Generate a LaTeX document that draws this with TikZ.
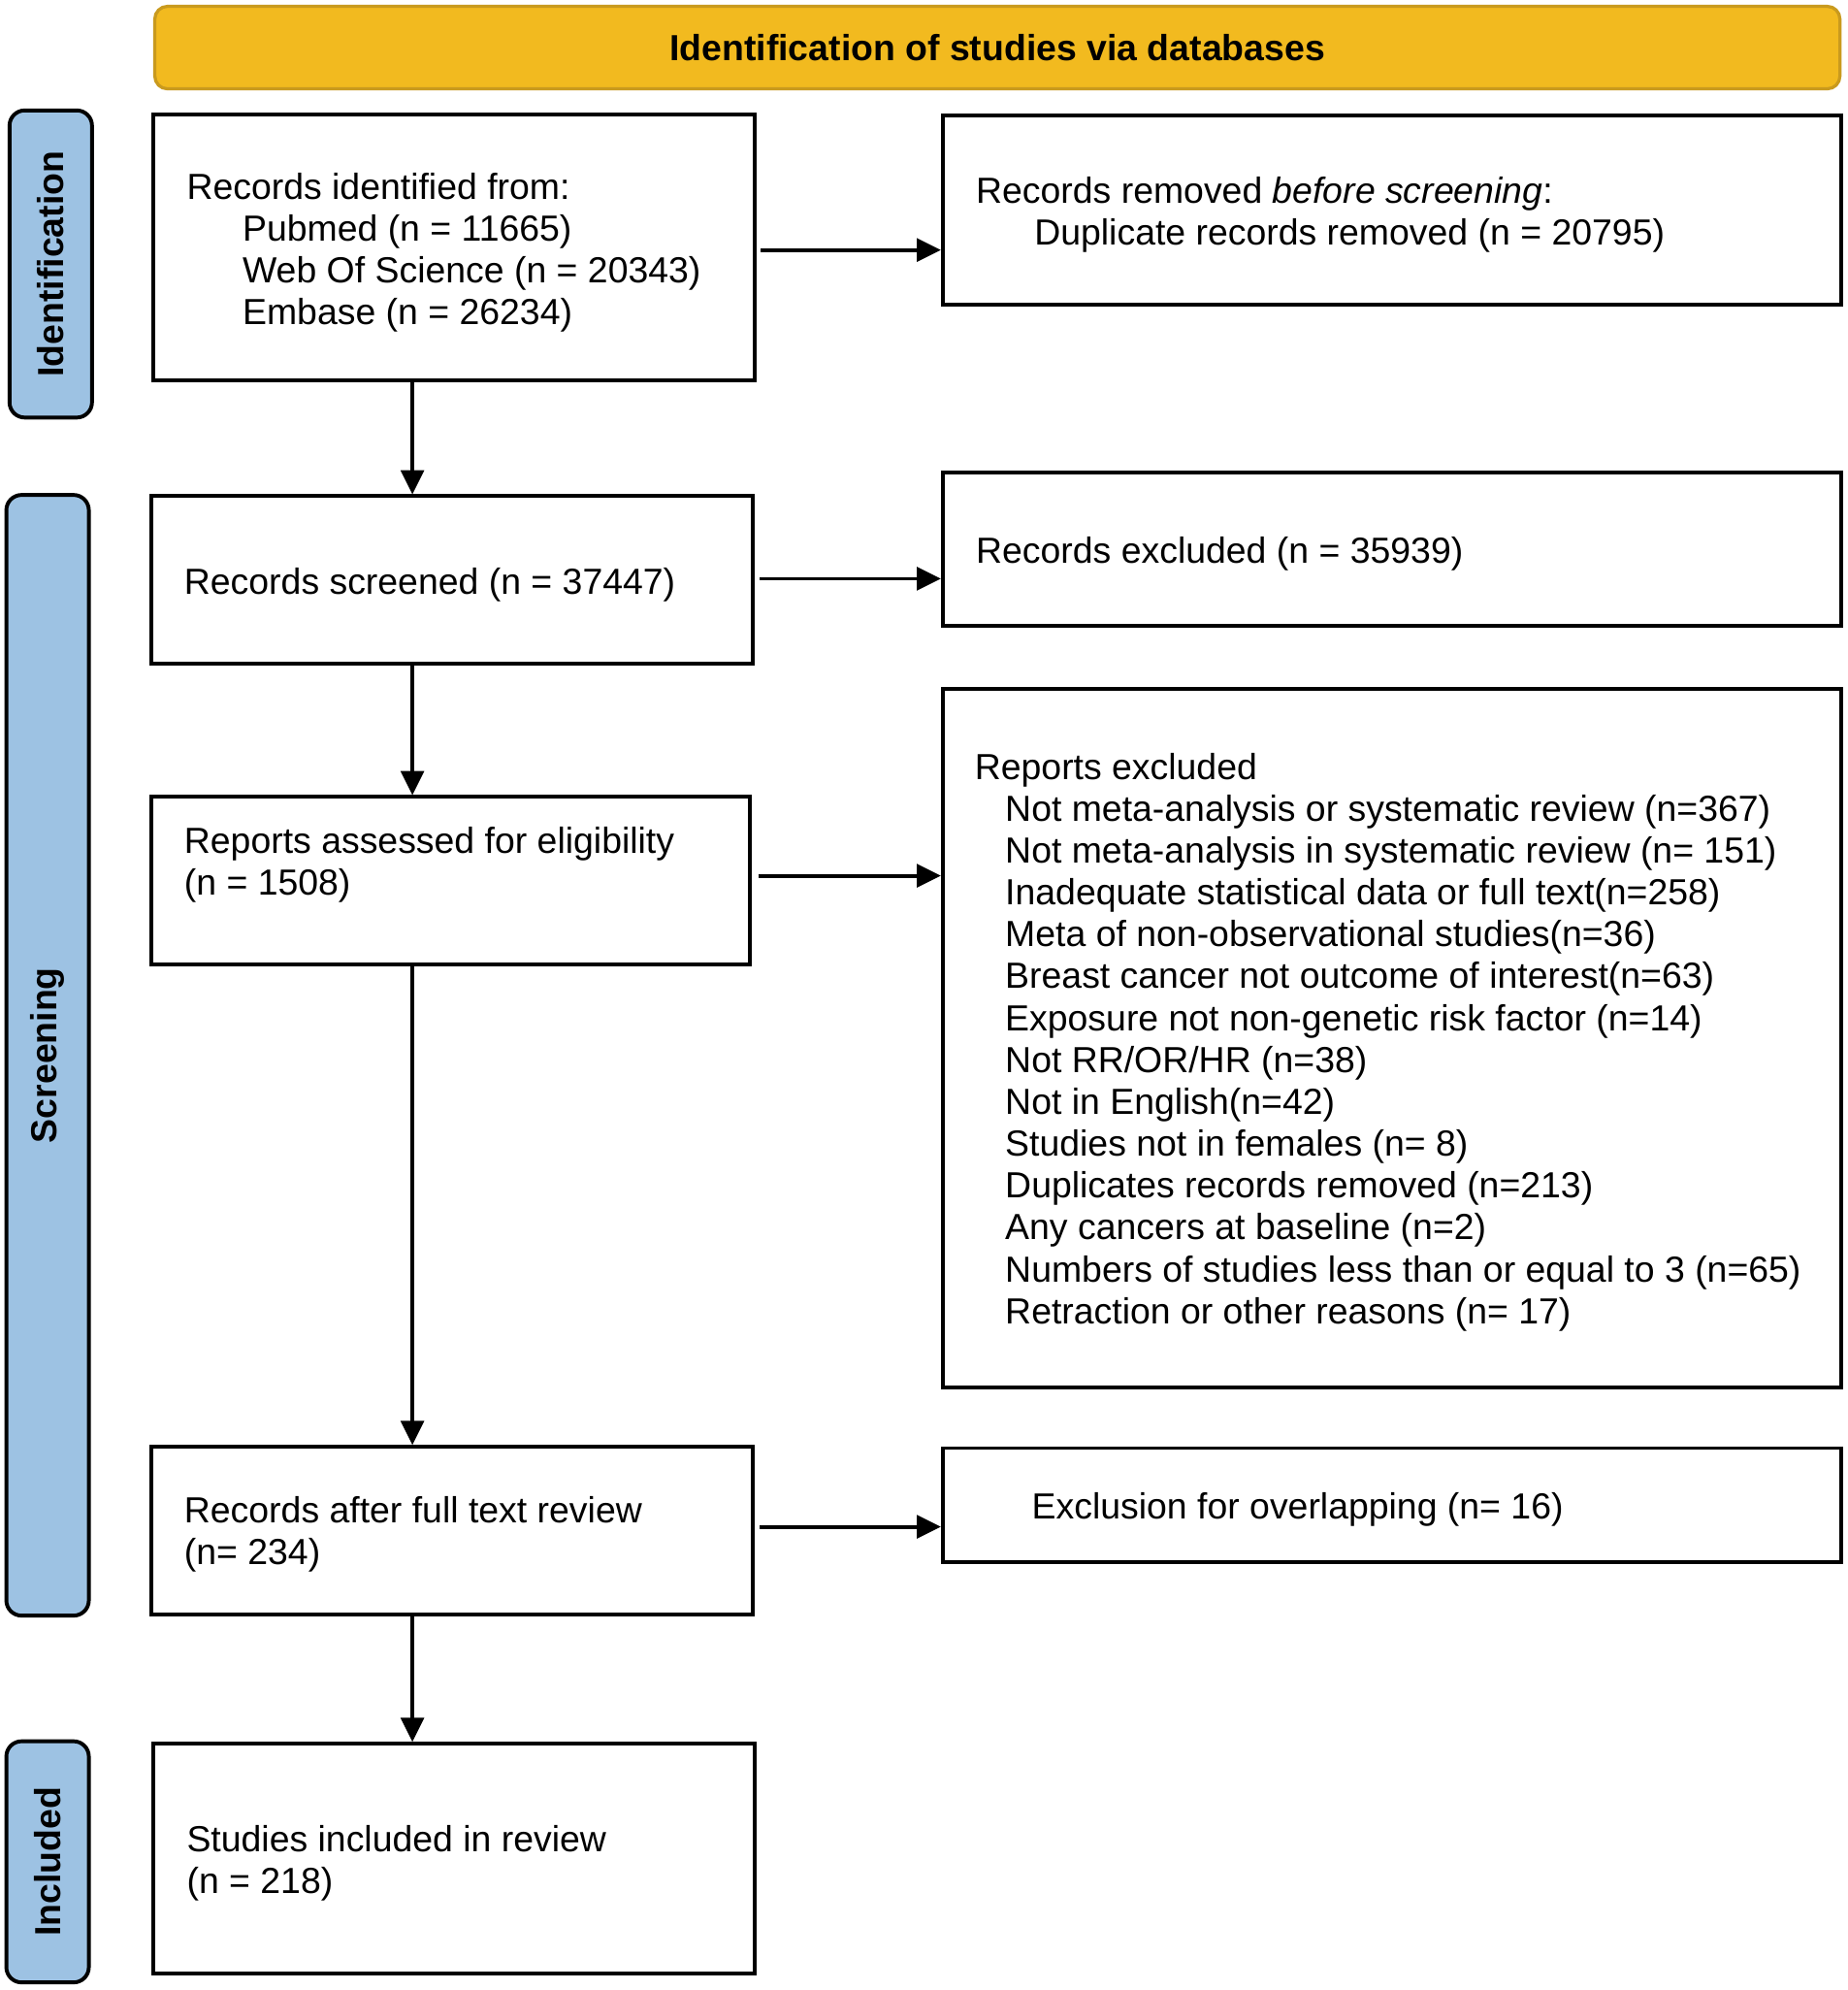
\documentclass[tikz,border=0pt]{standalone}
\usepackage{fontspec}
\setmainfont{Liberation Sans}
\usetikzlibrary{arrows.meta}
\definecolor{gold}{HTML}{F2BA1F}
\definecolor{golddark}{HTML}{C99A1E}
\definecolor{sideblue}{HTML}{9DC2E3}
\tikzset{
  box/.style={draw=black, line width=3pt, fill=white, inner sep=0pt, rectangle},
  sidelab/.style={draw=black, line width=3pt, fill=sideblue, rounded corners=12pt, inner sep=0pt, rotate=90, minimum height=65pt, font=\fontsize{28.6}{33}\selectfont\bfseries},
  txt/.style={anchor=base west, inner sep=0pt, font=\fontsize{28.6}{33}\selectfont},
  flow/.style={line width=3pt, -{Triangle[length=19pt,width=18pt]}},
}
\begin{document}
\begin{tikzpicture}[x=1pt,y=1pt]
\useasboundingbox (0,0) rectangle (1456,-1568);
% header
\node[draw=golddark, line width=2.5pt, fill=gold, rounded corners=10pt, minimum width=1328pt, minimum height=65pt, inner sep=0pt, font=\fontsize{28.6}{33}\selectfont\bfseries] (head) at (786,-37.5) {Identification of studies via databases};
% side labels
\node[sidelab, minimum width=242pt] (sid) at (40,-208) {Identification};
\node[sidelab, minimum width=883pt] (sscr) at (37.5,-831.5) {Screening};
\node[sidelab, minimum width=190pt] (sinc) at (37.5,-1467) {Included};
% boxes
\node[box, minimum width=474pt, minimum height=210pt] (b1) at (358,-195) {};
\node[box, minimum width=708pt, minimum height=149pt] (b2) at (1097,-165.5) {};
\node[box, minimum width=474pt, minimum height=132pt] (b3) at (356,-457) {};
\node[box, minimum width=708pt, minimum height=121pt] (b4) at (1097,-432.5) {};
\node[box, minimum width=472pt, minimum height=132pt] (b5) at (355,-694) {};
\node[box, minimum width=708pt, minimum height=550pt] (b6) at (1097,-818) {};
\node[box, minimum width=474pt, minimum height=132pt] (b7) at (356,-1206) {};
\node[box, minimum width=708pt, minimum height=90pt] (b8) at (1097,-1186) {};
\node[box, minimum width=474pt, minimum height=181pt] (b9) at (358,-1464.5) {};
% texts
\node[txt] (t1a) at (147,-157) {Records identified from:};
\node[txt] (t1b) at (191,-190) {Pubmed (n = 11665)};
\node[txt] (t1c) at (191,-223) {Web Of Science (n = 20343)};
\node[txt] (t1d) at (191,-256) {Embase (n = 26234)};
\node[txt] (t2a) at (769,-160) {Records removed \textit{before screening}:};
\node[txt] (t2b) at (815,-193) {Duplicate records removed (n = 20795)};
\node[txt] (t3) at (145,-468) {Records screened (n = 37447)};
\node[txt] (t4) at (769,-444) {Records excluded (n = 35939)};
\node[txt] (t5a) at (145,-672) {Reports assessed for eligibility};
\node[txt] (t5b) at (145,-705) {(n = 1508)};
\node[txt] (t6) at (768,-614) {Reports excluded};
\foreach \s [count=\i] in {
  {Not meta-analysis or systematic review (n=367)},
  {Not meta-analysis in systematic review (n= 151)},
  {Inadequate statistical data or full text(n=258)},
  {Meta of non-observational studies(n=36)},
  {Breast cancer not outcome of interest(n=63)},
  {Exposure not non-genetic risk factor (n=14)},
  {Not RR/OR/HR (n=38)},
  {Not in English(n=42)},
  {Studies not in females (n= 8)},
  {Duplicates records removed (n=213)},
  {Any cancers at baseline (n=2)},
  {Numbers of studies less than or equal to 3 (n=65)},
  {Retraction or other reasons (n= 17)}}
  \node[txt] (t6l\i) at (792,{-647-33*(\i-1)}) {\s};
\node[txt] (t7a) at (145,-1200) {Records after full text review};
\node[txt] (t7b) at (145,-1233) {(n= 234)};
\node[txt] (t8) at (813,-1197) {Exclusion for overlapping (n= 16)};
\node[txt] (t9a) at (147,-1459) {Studies included in review};
\node[txt] (t9b) at (147,-1492) {(n = 218)};
% connectors
\coordinate (spine) at (325,0);
\draw[flow, shorten <=3pt] ([yshift=-2pt]b1.east) -- ([yshift=-2pt]b1.east -| b2.west);
\draw[flow, shorten <=4pt] ([yshift=1pt]b3.east) -- ([yshift=1pt]b3.east -| b4.west);
\draw[flow, shorten <=5pt] ([yshift=4pt]b5.east) -- ([yshift=4pt]b5.east -| b6.west);
\draw[flow, shorten <=4pt] ([yshift=3pt]b7.east) -- ([yshift=3pt]b7.east -| b8.west);
\draw[flow] (b1.south -| spine) -- (b3.north -| spine);
\draw[flow] (b3.south -| spine) -- (b5.north -| spine);
\draw[flow] (b5.south -| spine) -- (b7.north -| spine);
\draw[flow] (b7.south -| spine) -- (b9.north -| spine);
\end{tikzpicture}
\end{document}
